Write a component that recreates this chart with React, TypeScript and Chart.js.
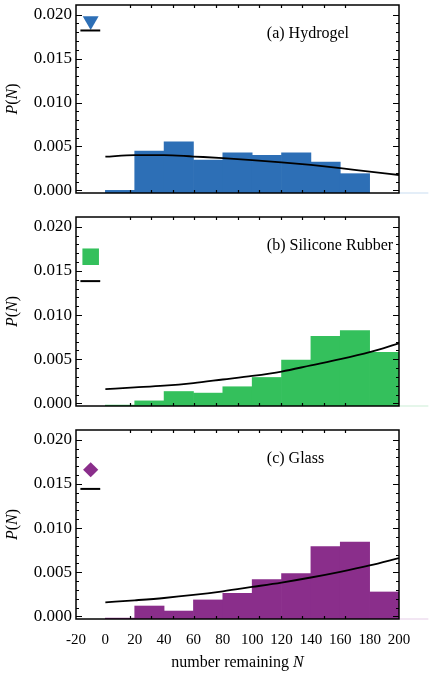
import React, { useEffect, useRef } from "react";
import { Chart, registerables } from "chart.js";

Chart.register(...registerables);

// ---------------- data ----------------
const binCenters = [10, 30, 50, 70, 90, 110, 130, 150, 170, 190];
const hydrogelHist = [0, 0.00448, 0.00553, 0.00345, 0.00428, 0.00399, 0.00428, 0.00323, 0.0019, null];
const siliconeHist = [-0.0002, 0.00028, 0.00134, 0.00116, 0.00188, 0.00293, 0.00491, 0.0076, 0.00824, 0.00577];
const glassHist = [-0.0002, 0.00117, 0.0006, 0.00186, 0.00261, 0.00417, 0.00485, 0.0079, 0.0084, 0.00276];

const fitN = [0, 20, 40, 60, 80, 100, 120, 140, 160, 180, 200];
const hydrogelFit = [0.00383, 0.00402, 0.00402, 0.00385, 0.00368, 0.00345, 0.00319, 0.00289, 0.00253, 0.00213, 0.00175];
const siliconeFit = [0.00161, 0.0018, 0.002, 0.0023, 0.0027, 0.0031, 0.0036, 0.0043, 0.005, 0.0058, 0.0068];
const glassFit = [0.00159, 0.00182, 0.00208, 0.00242, 0.00284, 0.00333, 0.00383, 0.0044, 0.00504, 0.00576, 0.00659];

const markerN = -10;
const markerValues = [0.0193, 0.0166, 0.0166];
const markerLineN = [-17, -3.5];
const markerLineValues = [0.0182, 0.01384, 0.01443];
const baselineN = [200, 220];

const panelLabels = ["(a) Hydrogel", "(b) Silicone Rubber", "(c) Glass"];
const labelN = 110;
const labelValue = 0.0178;

const xTickValues = [-20, 0, 20, 40, 60, 80, 100, 120, 140, 160, 180, 200];
const frameTickValues = [0, 20, 40, 60, 80, 100, 120, 140, 160, 180, 200];
const yTickValues = [0, 0.005, 0.01, 0.015, 0.02];

const X_MIN = -20;
const X_MAX = 200;
const FRAME_MAX = 220;
const Y_MIN = -0.0003;
const Y_MAX = 0.0211;

const FONT = "'Liberation Serif', 'Times New Roman', serif";

type PanelSpec = {
  hist: (number | null)[];
  fit: number[];
  marker: number;
  lineVal: number;
  color: string;
  pale: string;
  style: string;
  rot: number;
  radius: number;
  label: string;
  showX: boolean;
  top: number;
  height: number;
  padTop: number;
  padBottom: number;
};

const panels: PanelSpec[] = [
  {
    hist: hydrogelHist, fit: hydrogelFit, marker: markerValues[0], lineVal: markerLineValues[0],
    color: "#2d6fb6", pale: "#d3e3f3", style: "triangle", rot: 180, radius: 9.2, label: panelLabels[0],
    showX: false, top: -6, height: 211, padTop: 11, padBottom: 12,
  },
  {
    hist: siliconeHist, fit: siliconeFit, marker: markerValues[1], lineVal: markerLineValues[1],
    color: "#34c05c", pale: "#d4f1dc", style: "rect", rot: 0, radius: 11.7, label: panelLabels[1],
    showX: false, top: 200, height: 220, padTop: 17, padBottom: 14,
  },
  {
    hist: glassHist, fit: glassFit, marker: markerValues[2], lineVal: markerLineValues[2],
    color: "#8a2e8b", pale: "#ead6eb", style: "rectRot", rot: 0, radius: 7.6, label: panelLabels[2],
    showX: true, top: 415, height: 262, padTop: 15, padBottom: 8,
  },
];

function drawSegments(ctx: CanvasRenderingContext2D, segs: { t: string; italic: boolean }[], size: number, cx: number, cy: number) {
  const fontOf = (it: boolean) => `${it ? "italic " : ""}${size}px ${FONT}`;
  let total = 0;
  const widths = segs.map((s) => {
    ctx.font = fontOf(s.italic);
    const w = ctx.measureText(s.t).width;
    total += w;
    return w;
  });
  let x = cx - total / 2;
  ctx.textBaseline = "middle";
  ctx.textAlign = "left";
  segs.forEach((s, i) => {
    ctx.font = fontOf(s.italic);
    ctx.fillText(s.t, x, cy);
    x += widths[i];
  });
}

function makeFramePlugin(spec: PanelSpec) {
  return {
    id: "frameAndText",
    afterDatasetsDraw(chart: any) {
      const { ctx, chartArea } = chart;
      const { left, right, top, bottom } = chartArea;
      const ys = chart.scales.y;
      const xs = chart.scales.x;
      const xf = chart.scales.xf;
      ctx.save();
      ctx.strokeStyle = "#000";
      ctx.lineWidth = 1.5;
      ctx.strokeRect(left, top, right - left, bottom - top);

      ctx.lineWidth = 1.2;
      ctx.beginPath();
      for (let k = 0; k <= 20; k++) {
        const py = Math.round(ys.getPixelForValue(k * 0.001)) + 0.5;
        const len = k % 5 === 0 ? 6 : 3;
        ctx.moveTo(left, py);
        ctx.lineTo(left + len, py);
        ctx.moveTo(right, py);
        ctx.lineTo(right - len, py);
      }
      frameTickValues.forEach((v) => {
        const px = Math.round(xf.getPixelForValue(v)) + 0.5;
        ctx.moveTo(px, top);
        ctx.lineTo(px, top + 3);
        ctx.moveTo(px, bottom);
        ctx.lineTo(px, bottom - 3);
      });
      ctx.stroke();

      ctx.fillStyle = "#000";
      ctx.font = `16px ${FONT}`;
      ctx.textAlign = "left";
      ctx.textBaseline = "middle";
      ctx.fillText(spec.label, xs.getPixelForValue(labelN), ys.getPixelForValue(labelValue));

      ctx.save();
      ctx.translate(13, (top + bottom) / 2);
      ctx.rotate(-Math.PI / 2);
      drawSegments(ctx, [
        { t: "P", italic: true },
        { t: "(", italic: false },
        { t: "N", italic: true },
        { t: ")", italic: false },
      ], 16, 0, 0);
      ctx.restore();

      if (spec.showX) {
        drawSegments(ctx, [
          { t: "number remaining ", italic: false },
          { t: "N", italic: true },
        ], 16, (left + right) / 2, bottom + 44);
      }
      ctx.restore();
    },
  };
}

function Panel({ spec }: { spec: PanelSpec }) {
  const ref = useRef<HTMLCanvasElement | null>(null);
  useEffect(() => {
    if (!ref.current) return;
    const chart = new Chart(ref.current, {
      type: "bar",
      data: {
        datasets: [
          {
            type: "line",
            data: fitN.map((n, i) => ({ x: n, y: spec.fit[i] })),
            borderColor: "#000",
            borderWidth: 1.8,
            pointRadius: 0,
            tension: 0.4,
            cubicInterpolationMode: "monotone",
            order: 0,
          } as any,
          {
            type: "line",
            data: markerLineN.map((n) => ({ x: n, y: spec.lineVal })),
            borderColor: "#000",
            borderWidth: 2,
            pointRadius: 0,
            order: 0,
          } as any,
          {
            type: "line",
            data: [{ x: markerN, y: spec.marker }],
            showLine: false,
            pointStyle: spec.style,
            rotation: spec.rot,
            pointRadius: spec.radius,
            pointBackgroundColor: spec.color,
            pointBorderColor: spec.color,
            pointBorderWidth: 0,
            order: 0,
          } as any,
          {
            type: "line",
            data: baselineN.map((n) => ({ x: n, y: Y_MIN })),
            borderColor: spec.pale,
            borderWidth: 1.2,
            pointRadius: 0,
            clip: false,
            order: 0,
          } as any,
          {
            type: "bar",
            data: binCenters.map((n, i) => ({ x: n, y: spec.hist[i] })),
            backgroundColor: spec.color,
            borderWidth: 0,
            base: Y_MIN,
            barPercentage: 1,
            categoryPercentage: 1,
            order: 2,
          } as any,
        ],
      },
      options: {
        responsive: false,
        animation: false,
        devicePixelRatio: 1,
        events: [],
        layout: { padding: { left: 0, right: 37, top: spec.padTop, bottom: spec.padBottom } },
        plugins: { legend: { display: false }, tooltip: { enabled: false }, title: { display: false } },
        scales: {
          x: {
            type: "linear",
            min: X_MIN,
            max: X_MAX,
            offset: false,
            display: spec.showX,
            grid: { display: false, drawTicks: false },
            border: { display: false },
            afterBuildTicks: (ax: any) => {
              ax.ticks = xTickValues.map((v) => ({ value: v }));
            },
            ticks: {
              autoSkip: false,
              maxRotation: 0,
              padding: 12,
              color: "#000",
              font: { family: FONT, size: 15 },
              callback: (v: any) => String(v),
            },
            afterFit: (s: any) => {
              s.height = spec.showX ? 50 : 0;
              s.paddingLeft = 0;
              s.paddingRight = 0;
            },
          },
          xf: {
            type: "linear",
            axis: "x",
            min: X_MIN,
            max: FRAME_MAX,
            display: false,
          },
          y: {
            type: "linear",
            min: Y_MIN,
            max: Y_MAX,
            grid: { display: false, drawTicks: false },
            border: { display: false },
            afterBuildTicks: (ax: any) => {
              ax.ticks = yTickValues.map((v) => ({ value: v }));
            },
            ticks: {
              padding: 4,
              color: "#000",
              font: { family: FONT, size: 17 },
              callback: (v: any) => Number(v).toFixed(3),
            },
            afterFit: (s: any) => {
              s.width = 76;
              s.paddingTop = 0;
              s.paddingBottom = 0;
            },
          },
        },
      } as any,
      plugins: [makeFramePlugin(spec)],
    });
    return () => chart.destroy();
  }, [spec]);
  return (
    <canvas
      ref={ref}
      width={436}
      height={spec.height}
      style={{ position: "absolute", left: 0, top: spec.top, width: 436, height: spec.height }}
    />
  );
}

export default function App() {
  return (
    <div style={{ position: "fixed", left: 0, top: 0, width: 436, height: 677, background: "#fff", overflow: "hidden" }}>
      {panels.map((p, i) => (
        <Panel key={i} spec={p} />
      ))}
    </div>
  );
}
